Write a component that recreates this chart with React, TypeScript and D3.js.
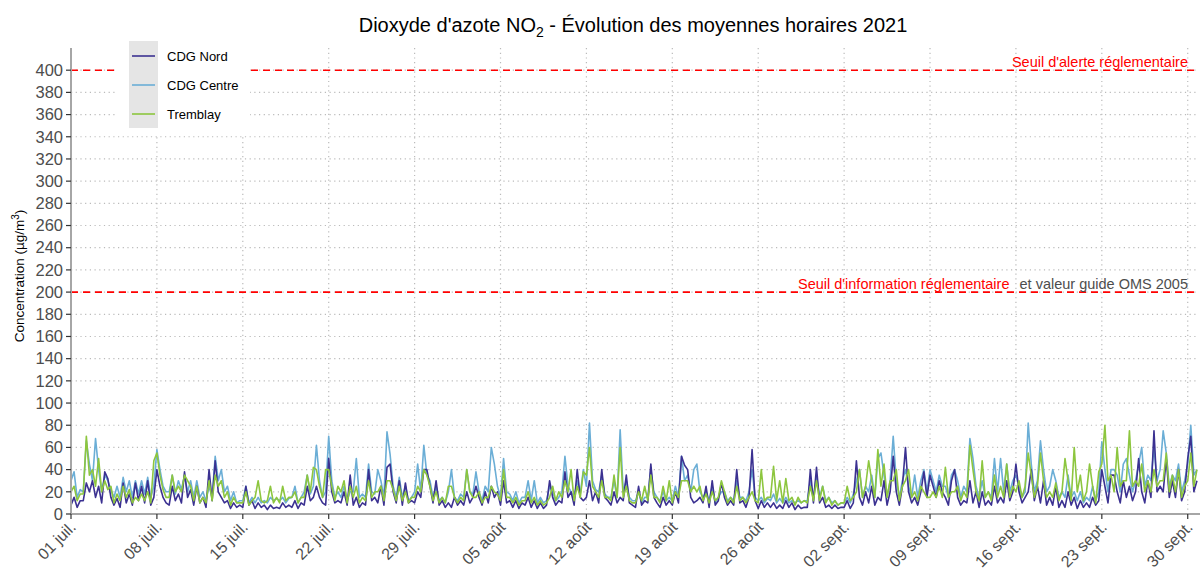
import React, { useEffect } from 'react';
import * as d3 from 'd3';

// hourly means, 4 samples per day (00h, 06h, 12h, 18h), 01/07 -> 30/09
const cdgNord = [
  8, 15, 6, 12, 12, 28, 20, 30, 15, 25, 10, 38, 32, 15, 8, 14, 6, 28, 10, 18, 8, 28, 12, 25, 10, 30, 8, 15,
  40, 25, 15, 10, 8, 25, 12, 18, 10, 38, 15, 22, 8, 25, 10, 15, 6, 40, 12, 48, 20, 15, 10, 12, 5, 10, 6, 8,
  6, 25, 8, 12, 5, 10, 6, 8, 4, 8, 5, 6, 5, 10, 6, 8, 6, 12, 5, 10, 8, 25, 12, 15, 25, 15, 10, 8,
  50, 20, 10, 12, 10, 20, 8, 35, 8, 15, 6, 10, 8, 40, 12, 15, 10, 25, 8, 42, 45, 20, 10, 30, 8, 28, 10, 12,
  10, 20, 15, 40, 40, 25, 10, 30, 8, 12, 6, 10, 6, 15, 8, 12, 8, 20, 10, 15, 25, 15, 8, 20, 10, 25, 15, 20,
  8, 30, 10, 12, 6, 12, 5, 10, 8, 15, 6, 12, 5, 10, 5, 8, 30, 15, 8, 12, 10, 38, 15, 20, 8, 40, 15, 12,
  15, 30, 12, 20, 10, 40, 15, 12, 8, 20, 10, 15, 12, 35, 10, 8, 6, 25, 8, 12, 10, 45, 15, 10, 6, 15, 8, 12,
  8, 20, 10, 52, 44, 40, 15, 10, 12, 15, 10, 25, 6, 30, 8, 12, 28, 15, 8, 12, 8, 40, 10, 12, 6, 15, 58, 12,
  5, 12, 6, 10, 6, 10, 5, 8, 5, 12, 6, 10, 4, 8, 5, 6, 6, 40, 10, 42, 10, 15, 6, 8, 5, 8, 5, 6,
  6, 12, 5, 10, 48, 15, 8, 20, 10, 25, 8, 15, 12, 30, 8, 20, 52, 20, 8, 25, 60, 20, 10, 15, 8, 20, 38, 15,
  35, 25, 15, 30, 20, 15, 8, 30, 40, 15, 8, 12, 10, 30, 10, 20, 6, 20, 8, 12, 8, 25, 10, 15, 10, 30, 12, 20,
  45, 20, 10, 15, 20, 40, 12, 25, 10, 30, 8, 15, 8, 25, 6, 12, 6, 20, 8, 15, 5, 12, 6, 10, 6, 15, 8, 12,
  40, 25, 10, 35, 35, 20, 10, 30, 15, 25, 12, 20, 50, 20, 10, 30, 15, 75, 20, 25, 20, 50, 15, 30, 15, 40, 12, 20,
  50, 70, 20, 30,
];

const cdgCentre = [
  30, 38, 15, 22, 20, 66, 45, 30, 68, 40, 20, 35, 30, 22, 15, 25, 15, 33, 20, 30, 15, 30, 18, 30, 18, 33, 15, 25,
  58, 40, 25, 20, 20, 35, 18, 30, 22, 35, 20, 30, 15, 30, 15, 20, 12, 25, 15, 52, 30, 40, 20, 25, 12, 20, 10, 12,
  12, 25, 10, 15, 10, 15, 10, 12, 10, 15, 12, 14, 12, 15, 10, 14, 15, 25, 10, 15, 20, 35, 18, 25, 62, 30, 15, 20,
  70, 30, 15, 20, 15, 25, 12, 20, 20, 50, 15, 18, 15, 45, 20, 18, 40, 30, 15, 74, 54, 25, 15, 33, 15, 25, 12, 15,
  20, 45, 20, 62, 35, 30, 15, 25, 12, 15, 10, 20, 40, 15, 12, 18, 15, 40, 20, 18, 38, 20, 12, 25, 20, 60, 45, 25,
  15, 50, 20, 18, 12, 20, 10, 15, 15, 30, 12, 30, 10, 15, 10, 12, 25, 20, 12, 15, 20, 52, 25, 20, 15, 30, 18, 40,
  25, 82, 30, 22, 20, 35, 18, 15, 15, 30, 15, 76, 20, 30, 15, 12, 12, 20, 10, 15, 15, 40, 20, 15, 12, 20, 12, 15,
  12, 25, 15, 52, 30, 35, 20, 40, 45, 20, 15, 20, 12, 25, 10, 15, 20, 20, 12, 15, 12, 30, 15, 15, 12, 20, 40, 15,
  12, 15, 10, 14, 12, 18, 10, 14, 10, 15, 10, 12, 10, 12, 10, 12, 12, 30, 15, 35, 15, 25, 12, 15, 10, 12, 8, 10,
  10, 15, 10, 18, 30, 40, 15, 25, 20, 35, 15, 50, 55, 35, 15, 30, 70, 30, 15, 30, 40, 25, 15, 35, 15, 30, 40, 20,
  40, 30, 20, 35, 25, 25, 15, 35, 40, 30, 15, 25, 20, 68, 50, 25, 15, 30, 15, 20, 15, 50, 20, 50, 20, 45, 20, 30,
  35, 25, 15, 20, 82, 45, 20, 30, 66, 40, 20, 25, 40, 30, 15, 20, 15, 35, 15, 20, 12, 20, 10, 15, 12, 25, 12, 20,
  65, 40, 20, 40, 40, 35, 20, 45, 50, 35, 20, 30, 45, 60, 25, 35, 30, 60, 30, 40, 75, 55, 25, 35, 30, 45, 20, 30,
  45, 80, 35, 40,
];

const tremblay = [
  20, 25, 12, 18, 18, 70, 35, 40, 25, 50, 20, 30, 22, 25, 10, 18, 12, 25, 15, 22, 10, 15, 12, 18, 12, 20, 10, 48,
  55, 35, 22, 15, 15, 35, 20, 25, 20, 35, 30, 25, 12, 25, 10, 15, 10, 30, 12, 35, 25, 30, 15, 20, 8, 15, 10, 10,
  10, 20, 8, 12, 15, 30, 12, 10, 12, 25, 10, 15, 10, 25, 12, 15, 15, 20, 10, 15, 15, 35, 20, 42, 40, 25, 15, 40,
  40, 25, 12, 25, 20, 30, 10, 25, 15, 25, 10, 15, 12, 30, 15, 20, 20, 25, 12, 30, 30, 22, 12, 25, 12, 20, 10, 15,
  15, 25, 20, 40, 35, 25, 12, 20, 10, 15, 10, 25, 25, 15, 10, 15, 12, 40, 20, 15, 15, 20, 10, 15, 15, 25, 20, 18,
  12, 40, 15, 15, 10, 15, 8, 12, 12, 20, 10, 15, 8, 12, 8, 10, 15, 25, 12, 20, 15, 30, 20, 40, 12, 25, 15, 38,
  35, 60, 25, 20, 15, 30, 15, 15, 12, 35, 15, 60, 15, 25, 12, 10, 10, 20, 12, 25, 12, 35, 15, 15, 10, 25, 12, 30,
  10, 20, 15, 30, 30, 30, 20, 25, 20, 25, 12, 18, 10, 20, 12, 15, 30, 20, 10, 15, 10, 25, 12, 15, 10, 15, 20, 12,
  10, 40, 12, 15, 15, 43, 12, 30, 10, 32, 12, 15, 8, 15, 10, 12, 10, 25, 12, 30, 12, 25, 10, 15, 8, 12, 8, 10,
  10, 25, 12, 15, 20, 40, 15, 25, 48, 30, 15, 58, 25, 45, 15, 30, 30, 40, 12, 25, 30, 40, 15, 20, 12, 25, 20, 15,
  15, 20, 15, 25, 15, 42, 15, 20, 20, 25, 12, 20, 15, 62, 40, 20, 12, 48, 15, 20, 12, 35, 15, 25, 15, 45, 15, 25,
  20, 30, 15, 25, 55, 35, 15, 25, 55, 30, 15, 20, 15, 28, 12, 20, 50, 30, 12, 60, 20, 35, 12, 20, 45, 25, 10, 38,
  45, 80, 30, 35, 20, 60, 25, 30, 30, 75, 25, 30, 25, 45, 20, 30, 20, 40, 25, 30, 30, 55, 20, 35, 20, 40, 15, 25,
  30, 55, 25, 40,
];

const seriesNames = ['CDG Nord', 'CDG Centre', 'Tremblay'];
const seriesColors = ['#3b3191', '#6baed6', '#8dc63f'];
const yTicks = d3.range(0, 401, 20);
const xTickLabels = [
  '01 juil.', '08 juil.', '15 juil.', '22 juil.', '29 juil.', '05 août', '12 août',
  '19 août', '26 août', '02 sept.', '09 sept.', '16 sept.', '23 sept.', '30 sept.',
];

const W = 1200;
const H = 576;
const left = 71;
const right = 1200;
const top = 48;
const bottom = 514;

const start = Date.UTC(2021, 6, 1);
const HOUR = 3600 * 1000;
const DAY = 24 * HOUR;

const toPoints = (vals: number[]) => vals.map((v, i) => ({ t: new Date(start + i * 6 * HOUR), v }));

const App = () => {
  useEffect(() => {
    document.body.style.margin = '0';
  }, []);

  const x = d3.scaleUtc().domain([new Date(start), new Date(Date.UTC(2021, 9, 1))]).range([left, right]);
  const y = d3.scaleLinear().domain([0, 420]).range([bottom, top]);
  const line = d3
    .line<{ t: Date; v: number }>()
    .x((d) => x(d.t))
    .y((d) => y(d.v));

  const xTicks = xTickLabels.map((_, i) => new Date(start + i * 7 * DAY));
  const data = [cdgNord, cdgCentre, tremblay];
  const drawOrder = [1, 0, 2];
  const font = 'Liberation Sans, Arial, sans-serif';
  const gridEnd = 1196;

  return (
    <svg width={W} height={H} style={{ display: 'block', background: '#fff' }} fontFamily={font}>
      {/* grid */}
      {yTicks.map((t) => (
        <line key={'gy' + t} x1={left} x2={gridEnd} y1={y(t)} y2={y(t)} stroke="#bbb" strokeWidth={1.2} strokeDasharray="1.2,3.5" />
      ))}
      {xTicks.map((t, i) => (
        <line key={'gx' + i} x1={x(t)} x2={x(t)} y1={top} y2={bottom} stroke="#bbb" strokeWidth={1.2} strokeDasharray="1.2,3.5" />
      ))}

      {/* threshold lines */}
      {[400, 200].map((v) => (
        <line key={'th' + v} x1={left} x2={gridEnd} y1={y(v)} y2={y(v)} stroke="#ff0000" strokeWidth={1.6} strokeDasharray="7,5" />
      ))}
      <text x={1188} y={y(400) - 3} textAnchor="end" fontSize={14.5} fill="#ff0000">
        Seuil d'alerte réglementaire
      </text>
      <text x={1188} y={y(200) - 3} textAnchor="end" fontSize={14.5} fill="#4d4d4d">
        <tspan fill="#ff0000">Seuil d'information réglementaire</tspan>
        <tspan> </tspan>
        <tspan dx={6}>et valeur guide OMS 2005</tspan>
      </text>

      {/* series */}
      {drawOrder.map((k) => (
        <path key={seriesNames[k]} d={line(toPoints(data[k])) || ''} fill="none" stroke={seriesColors[k]} strokeWidth={1.6} strokeLinejoin="round" />
      ))}

      {/* axes */}
      <line x1={left} x2={left} y1={top} y2={bottom} stroke="#a6a6a6" strokeWidth={2} />
      <line x1={left} x2={right} y1={bottom} y2={bottom} stroke="#a6a6a6" strokeWidth={2} />
      {yTicks.map((t) => (
        <g key={'ty' + t}>
          <line x1={left - 5} x2={left} y1={y(t)} y2={y(t)} stroke="#333" strokeWidth={1.2} />
          <text x={left - 8} y={y(t)} dy="0.35em" textAnchor="end" fontSize={16.5} fill="#4d4d4d">
            {t}
          </text>
        </g>
      ))}
      {xTicks.map((t, i) => (
        <g key={'tx' + i}>
          <line x1={x(t)} x2={x(t)} y1={bottom} y2={bottom + 5} stroke="#333" strokeWidth={1.2} />
          <text
            transform={`translate(${x(t) + 6},${bottom + 14}) rotate(-45)`}
            textAnchor="end"
            fontSize={16}
            fill="#4d4d4d"
          >
            {xTickLabels[i]}
          </text>
        </g>
      ))}

      {/* y title */}
      <text transform={`translate(24,276) rotate(-90)`} textAnchor="middle" fontSize={13.5} fill="#000">
        Concentration (µg/m<tspan dy={-5} fontSize={10}>3</tspan>
        <tspan dy={5}>)</tspan>
      </text>

      {/* title */}
      <text x={633} y={32} textAnchor="middle" fontSize={20} fill="#000">
        Dioxyde d'azote NO<tspan dy={5} fontSize={14}>2</tspan>
        <tspan dy={-5}> - Évolution des moyennes horaires 2021</tspan>
      </text>

      {/* legend */}
      <rect x={117} y={36} width={133} height={99} fill="#fff" />
      <rect x={129} y={41} width={29} height={87} fill="#e5e5e5" />
      {seriesNames.map((n, i) => (
        <g key={n}>
          <line x1={132} x2={155} y1={56 + i * 29} y2={56 + i * 29} stroke={seriesColors[i]} strokeWidth={1.6} />
          <text x={167} y={56 + i * 29} dy="0.35em" fontSize={13} fill="#000">
            {n}
          </text>
        </g>
      ))}
    </svg>
  );
};

export default App;
